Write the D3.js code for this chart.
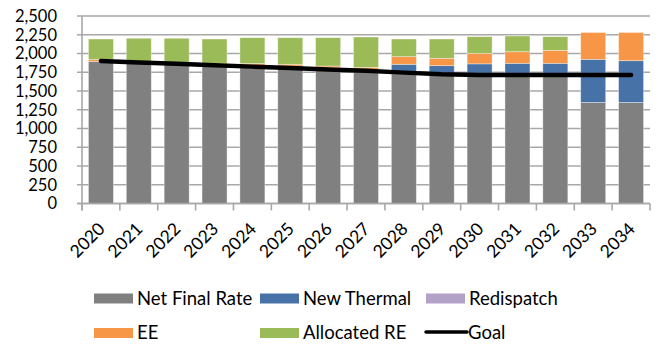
<!DOCTYPE html>
<html><head><meta charset="utf-8">
<script src="https://cdn.jsdelivr.net/npm/d3@7"></script>
<style>
html,body{margin:0;padding:0;background:#fff;}
svg{display:block;}
text{font-family:Lato,"Open Sans",sans-serif;fill:#000;}
</style></head>
<body>
<svg id="chart" width="660" height="345"></svg>
<script>
const years = ["2020","2021","2022","2023","2024","2025","2026","2027","2028","2029","2030","2031","2032","2033","2034"];
const netFinalRate = [1895,1875,1860,1850,1845,1833,1810,1785,1730,1712,1712,1712,1712,1347,1347];
const newThermal   = [0,0,0,0,0,0,0,0,126,126,150,157,157,575,557];
const redispatch   = [0,0,0,0,0,0,0,0,0,0,0,0,0,0,0];
const ee           = [25,8,10,20,22,23,23,30,102,98,140,155,173,358,376];
const allocatedRE  = [273,320,333,323,344,355,378,405,235,257,222,209,182,0,0];
const goal         = [1900,1881,1862,1843,1825,1806,1788,1769,1745,1722,1713,1713,1713,1713,1713];
const yTicks = [0,250,500,750,1000,1250,1500,1750,2000,2250,2500];

const seriesNames = ["Net Final Rate","New Thermal","Redispatch","EE","Allocated RE"];
const seriesColors = ["#808080","#4672A8","#B3A2C7","#F79646","#9BBB59"];
const seriesData = [netFinalRate,newThermal,redispatch,ee,allocatedRE];

const svg = d3.select("#chart");
const L = 82, R = 650, T = 16, B = 203.5;

const x = d3.scaleBand().domain(years).range([L,R]).paddingInner(0.34).paddingOuter(0.17);
const y = d3.scaleLinear().domain([0,2500]).range([B,T]);

// gridlines
svg.append("g").selectAll("line").data(yTicks).join("line")
  .attr("x1",L-5).attr("x2",R)
  .attr("y1",d=>y(d)).attr("y2",d=>y(d))
  .attr("stroke","#a8a8a8").attr("stroke-width",1.6);

// y axis labels
svg.append("g").selectAll("text").data(yTicks).join("text")
  .attr("x",57).attr("y",d=>y(d)).attr("dy","0.35em")
  .attr("text-anchor","end").attr("font-size",16.5)
  .text(d=>d3.format(",")(d));

// stacked data
const table = years.map((yr,i)=>{
  const o = {year:yr};
  seriesNames.forEach((n,k)=>o[n]=seriesData[k][i]);
  return o;
});
const stack = d3.stack().keys(seriesNames)(table);

svg.append("g").selectAll("g").data(stack).join("g")
  .attr("fill",(d,i)=>seriesColors[i])
  .selectAll("rect").data(d=>d).join("rect")
  .attr("x",d=>x(d.data.year))
  .attr("width",x.bandwidth())
  .attr("y",d=>y(d[1]))
  .attr("height",d=>Math.max(0,y(d[0])-y(d[1])))
  .attr("stroke","#ffffff").attr("stroke-opacity",0.45).attr("stroke-width",0.8);

// axes lines
svg.append("line").attr("x1",L).attr("x2",L).attr("y1",T).attr("y2",B+7)
  .attr("stroke","#a8a8a8").attr("stroke-width",1.6);
svg.append("line").attr("x1",L-5).attr("x2",R).attr("y1",B).attr("y2",B)
  .attr("stroke","#a8a8a8").attr("stroke-width",1.6);
const bounds = years.map(yr=>x(yr)-x.step()*x.paddingInner()/2).concat([R]);
svg.append("g").selectAll("line").data(bounds).join("line")
  .attr("x1",d=>d).attr("x2",d=>d).attr("y1",B).attr("y2",B+7)
  .attr("stroke","#a8a8a8").attr("stroke-width",1.6);

// goal line
const line = d3.line().x((d,i)=>x(years[i])+x.bandwidth()/2).y(d=>y(d));
svg.append("path").datum(goal).attr("d",line)
  .attr("fill","none").attr("stroke","#000").attr("stroke-width",4.5)
  .attr("stroke-linecap","round").attr("stroke-linejoin","round");

// x labels
svg.append("g").selectAll("text").data(years).join("text")
  .attr("transform",d=>`translate(${x(d)+x.bandwidth()/2+5},${230}) rotate(-45)`)
  .attr("text-anchor","end").attr("font-size",17.5)
  .text(d=>d);

// legend
const legendItems = [
  {name:"Net Final Rate", color:seriesColors[0], type:"rect", col:0, row:0},
  {name:"New Thermal", color:seriesColors[1], type:"rect", col:1, row:0},
  {name:"Redispatch", color:seriesColors[2], type:"rect", col:2, row:0},
  {name:"EE", color:seriesColors[3], type:"rect", col:0, row:1},
  {name:"Allocated RE", color:seriesColors[4], type:"rect", col:1, row:1},
  {name:"Goal", color:"#000", type:"line", col:2, row:1}
];
const colX = [94,260,426], rowY = [298.5,333];
const lg = svg.append("g").selectAll("g").data(legendItems).join("g")
  .attr("transform",d=>`translate(${colX[d.col]},${rowY[d.row]})`);
lg.filter(d=>d.type==="rect").append("rect")
  .attr("x",0).attr("y",-5).attr("width",39).attr("height",10).attr("fill",d=>d.color);
lg.filter(d=>d.type==="line").append("line")
  .attr("x1",0).attr("x2",41).attr("y1",-1).attr("y2",-1)
  .attr("stroke","#000").attr("stroke-width",3.5).attr("stroke-linecap","round");
lg.append("text").attr("x",d=>d.type==="line"?42:43).attr("y",0).attr("dy","0.35em")
  .attr("font-size",18.5).text(d=>d.name);
</script>
</body></html>
